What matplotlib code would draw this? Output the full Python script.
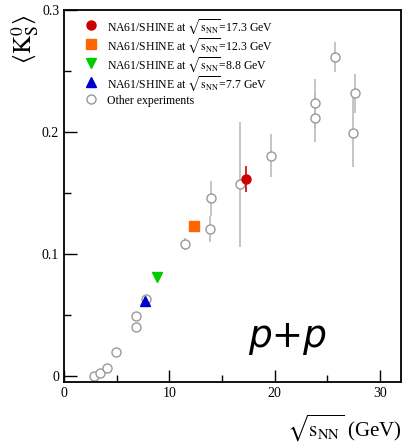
import numpy as np
import matplotlib
matplotlib.use('Agg')
import matplotlib.pyplot as plt
from matplotlib.lines import Line2D

plt.rcParams['font.family'] = ['Liberation Serif', 'DejaVu Serif']
plt.rcParams['mathtext.fontset'] = 'stix'

# NA61/SHINE points
na61_energy = [17.3, 12.3, 8.8, 7.7]
na61_k0s = [0.1615, 0.1227, 0.081, 0.0617]
na61_err = [0.011, 0.0, 0.0, 0.0]
na61_colors = ['#cc0000', '#ff6600', '#00cc00', '#0000cc']
na61_markers = ['o', 's', 'v', '^']

# other experiments
oth_energy = [2.82, 3.45, 4.05, 4.97, 6.8, 6.8, 7.82, 11.5, 13.9, 13.93, 16.7,
              19.69, 23.84, 23.84, 25.7, 27.6, 27.4]
oth_k0s = [0.0, 0.0025, 0.0068, 0.0194, 0.049, 0.0404, 0.063, 0.108, 0.1205,
           0.1456, 0.157, 0.1806, 0.2235, 0.2115, 0.2615, 0.2317, 0.1995]
oth_err = [0.0, 0.0, 0.0, 0.0, 0.0, 0.0, 0.0, 0.005, 0.011, 0.0146, 0.051,
           0.0176, 0.02, 0.02, 0.0125, 0.016, 0.028]

fig = plt.figure(figsize=(4.04, 4.45), dpi=100)
ax = fig.add_axes([64/404, 1-382/445, 337/404, 372/445])

ax.errorbar(oth_energy, oth_k0s, yerr=oth_err, fmt='o', ms=6.5, mfc='white',
            mec='#999999', ecolor='#bbbbbb', elinewidth=1.2, capsize=0, zorder=2)

handles = []
labels = []
for e, k, er, c, m in zip(na61_energy, na61_k0s, na61_err, na61_colors, na61_markers):
    ax.errorbar([e], [k], yerr=[er], fmt=m, ms=6.5, color=c, mec=c, ecolor=c,
                elinewidth=1.2, capsize=0, zorder=3)
    handles.append(Line2D([], [], ls='none', marker=m, ms=6.5, color=c))
    labels.append(r'NA61/SHINE at $\sqrt{\mathrm{s}_{\rm NN}}$=%.1f GeV' % e)
handles.append(Line2D([], [], ls='none', marker='o', ms=6.5, mfc='white', mec='#999999'))
labels.append('Other experiments')

ax.legend(handles, labels, loc='upper left', frameon=False, fontsize=8.5,
          bbox_to_anchor=(0.033, 1.0), handletextpad=0.6, labelspacing=0.0,
          handlelength=1.5, handleheight=1.6, borderaxespad=0.2)

ax.text(21.2, 0.032, 'p+p', family='DejaVu Sans', style='italic', fontsize=27,
        ha='center', va='center')

ax.set_xlim(0, 32)
ax.set_ylim(-0.005, 0.3)
ax.set_xticks([0, 10, 20, 30])
ax.set_xticks([5, 15, 25], minor=True)
ax.set_yticks([0, 0.1, 0.2, 0.3])
ax.set_yticklabels(['0', '0.1', '0.2', '0.3'])
ax.set_yticks([0.05, 0.15, 0.25], minor=True)
ax.tick_params(direction='in', which='major', length=9, width=1, labelsize=10)
ax.tick_params(direction='in', which='minor', length=5, width=1)
for s in ax.spines.values():
    s.set_linewidth(1.3)

fig.text(0.995, 0.003, r'$\sqrt{\mathrm{s}_{\rm NN}}$ (GeV)', ha='right', va='bottom', fontsize=15)
fig.text(0.062, 0.912, r'$\langle\mathrm{K}^0_\mathrm{S}\rangle$', rotation=90,
         ha='center', va='center', fontsize=18)

fig.savefig('out.png', dpi=100)
